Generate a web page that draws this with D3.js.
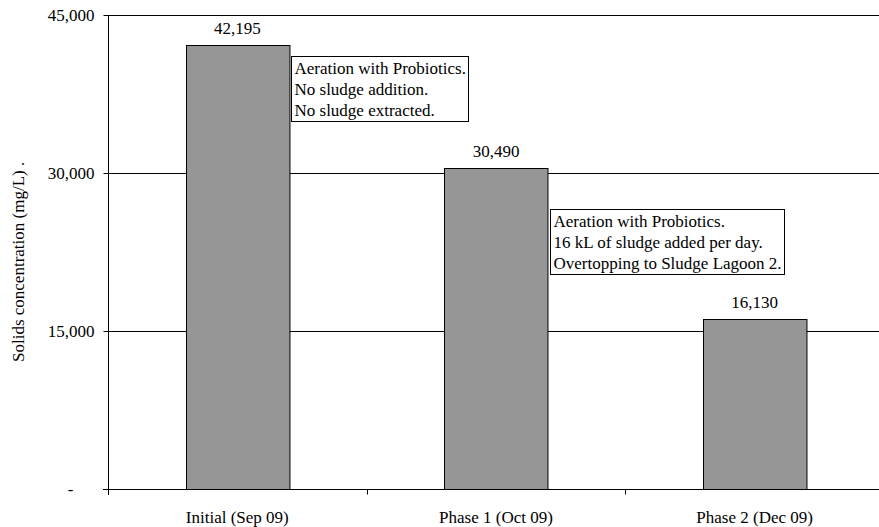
<!DOCTYPE html>
<html><head><meta charset="utf-8">
<script src="https://cdn.jsdelivr.net/npm/d3@7/dist/d3.min.js"></script>
<style>body{margin:0;background:#fff}svg{display:block}text{font-family:"Liberation Serif","Times New Roman",serif;fill:#000}</style>
</head><body>
<svg id="c" width="879" height="527"></svg>
<script>
const categories = ["Initial (Sep 09)", "Phase 1 (Oct 09)", "Phase 2 (Dec 09)"];
const values = [42195, 30490, 16130];
const yTicks = [0, 15000, 30000, 45000];
const yTitle = "Solids concentration (mg/L) .";
const notes = [
  {cat: 0, lines: ["Aeration with Probiotics.", "No sludge addition.", "No sludge extracted."]},
  {cat: 1, lines: ["Aeration with Probiotics.", "16 kL of sludge added per day.", "Overtopping to Sludge Lagoon 2."]}
];

const FS = 17;
const svg = d3.select("#c");
const pLeft = 108, pRight = 884, pTop = 15, pBottom = 489;
const x = d3.scaleBand().domain(categories).range([pLeft, pRight]).paddingInner(0.6).paddingOuter(0.3);
const y = d3.scaleLinear().domain([0, 45000]).range([pBottom, pTop]);
const fmt = d3.format(",");

// gridlines
svg.append("g").selectAll("line").data(yTicks.filter(d => d > 0)).join("line")
  .attr("x1", pLeft).attr("x2", 879)
  .attr("y1", d => Math.round(y(d)) + 0.5).attr("y2", d => Math.round(y(d)) + 0.5)
  .attr("stroke", "#000").attr("stroke-width", 1);

// bars
svg.append("g").selectAll("rect").data(values).join("rect")
  .attr("x", (d, i) => Math.round(x(categories[i])) + 0.5)
  .attr("y", d => Math.round(y(d)) + 0.5)
  .attr("width", x.bandwidth())
  .attr("height", d => Math.round(y(0)) - Math.round(y(d)))
  .attr("fill", "#969696").attr("stroke", "#000").attr("stroke-width", 1);

// value labels
svg.append("g").selectAll("text").data(values).join("text")
  .attr("x", (d, i) => x(categories[i]) + x.bandwidth() / 2)
  .attr("y", d => y(d) - 11)
  .attr("text-anchor", "middle").attr("font-size", FS)
  .text(d => fmt(d));

// y axis
const yAxis = d3.axisLeft(y).tickValues(yTicks).tickSize(5).tickPadding(9)
  .tickFormat(d => d === 0 ? "-" : fmt(d));
const gy = svg.append("g").attr("transform", `translate(${pLeft + 0.5},0)`).call(yAxis);
gy.select(".domain").attr("d", `M0,${pTop}V${pBottom + 6}`).attr("stroke", "#000");
gy.selectAll(".tick line").attr("stroke", "#000");
gy.selectAll(".tick text").attr("font-size", FS).attr("font-family", "Liberation Serif").attr("fill", "#000");
gy.selectAll(".tick").filter(d => d === 0).select("text").attr("dx", -21);

// x axis
const gx = svg.append("g").attr("transform", `translate(0,${Math.round(pBottom) + 0.5})`);
gx.append("line").attr("x1", pLeft - 5).attr("x2", 879).attr("stroke", "#000");
const bounds = categories.slice(1).map(c => x(c) - x.step() * x.paddingInner() / 2);
gx.selectAll("line.t").data(bounds).join("line").attr("class", "t")
  .attr("x1", d => Math.round(d) + 0.5).attr("x2", d => Math.round(d) + 0.5)
  .attr("y1", 0).attr("y2", 5).attr("stroke", "#000");
gx.selectAll("text").data(categories).join("text")
  .attr("x", d => x(d) + x.bandwidth() / 2).attr("y", 33)
  .attr("text-anchor", "middle").attr("font-size", FS).text(d => d);

// y title
svg.append("text").attr("transform", "translate(24,362) rotate(-90)")
  .attr("font-size", FS).text(yTitle);

// note boxes
const lineH = 21;
notes.forEach(n => {
  const c = categories[n.cat];
  const bx = Math.round(x(c) + x.bandwidth()) + 2.5;
  const by = Math.round(y(values[n.cat])) + (n.cat === 0 ? 11.5 : 41.5);
  const g = svg.append("g");
  const rect = g.append("rect").attr("x", bx).attr("y", by).attr("fill", "#fff")
    .attr("stroke", "#000").attr("stroke-width", 1);
  const t = g.selectAll("text").data(n.lines).join("text")
    .attr("x", bx + 3).attr("y", (d, i) => by + 17 + i * lineH)
    .attr("font-size", FS).text(d => d);
  let w = 0; t.each(function(){ w = Math.max(w, this.getComputedTextLength()); });
  rect.attr("width", Math.round(w + 6)).attr("height", n.lines.length * lineH + 2);
});
</script>
</body></html>
